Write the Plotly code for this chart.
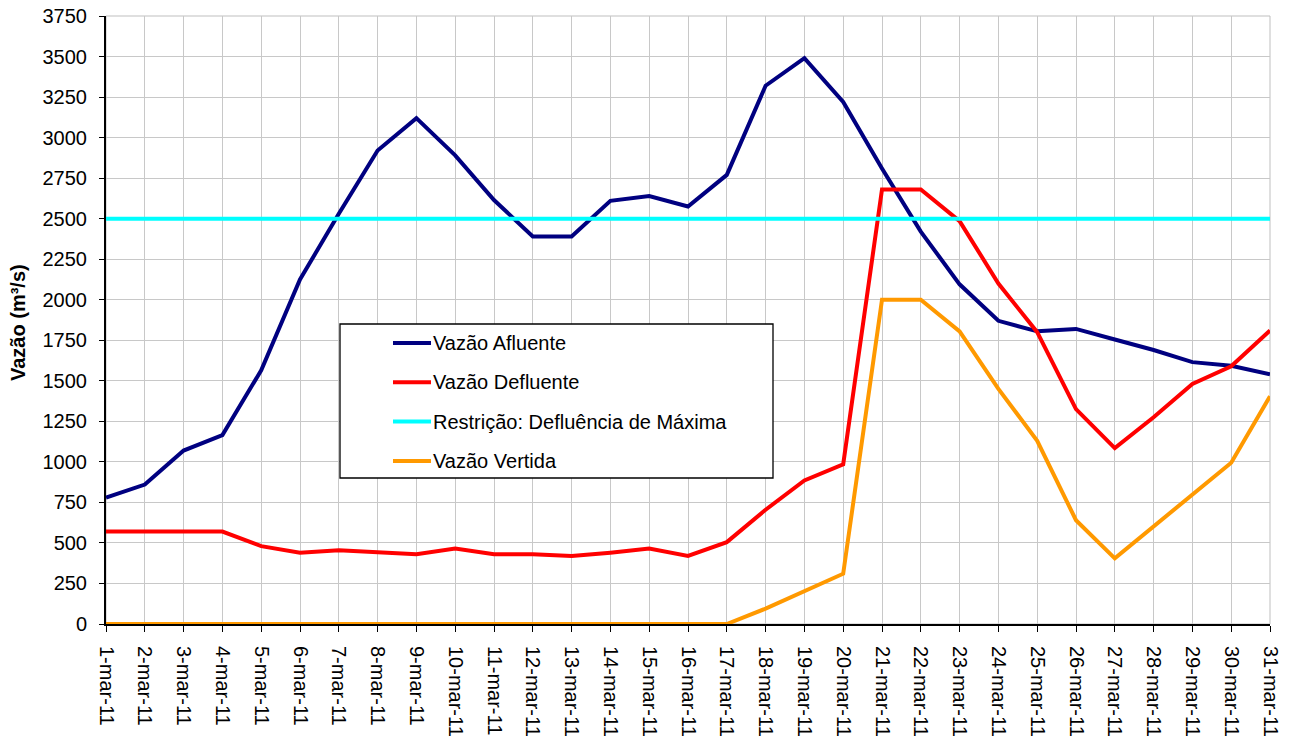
import plotly.graph_objects as go

days = list(range(1, 32))
tick_labels = [f"{d}-mar-11" for d in days]

afluente = [780, 860, 1070, 1165, 1565, 2125, 2530, 2920, 3120, 2890,
            2615, 2390, 2390, 2610, 2640, 2575, 2770, 3320, 3490, 3220,
            2810, 2420, 2095, 1870, 1805, 1820, 1755, 1690, 1615, 1593, 1540]
defluente = [570, 570, 570, 570, 480, 440, 455, 440, 430, 465,
             430, 430, 420, 440, 465, 420, 505, 705, 885, 985,
             2680, 2680, 2485, 2100, 1800, 1325, 1085, 1275, 1480, 1590, 1810]
restricao = [2500] * 31
vertida = [0, 0, 0, 0, 0, 0, 0, 0, 0, 0,
           0, 0, 0, 0, 0, 0, 0, 95, 205, 310,
           2000, 2000, 1805, 1450, 1130, 640, 405, 600, 800, 995, 1405]

series_names = ["Vazão Afluente", "Vazão Defluente",
                "Restrição: Defluência de Máxima", "Vazão Vertida"]
series_values = [afluente, defluente, restricao, vertida]
series_colors = ["#000080", "#FF0000", "#00FFFF", "#FF9900"]

W, H = 1294, 740
L, R, T, B = 106, 24, 16, 116
PW, PH = W - L - R, H - T - B

def px(x):
    return (x - L) / PW

def py(y):
    return (H - B - y) / PH

fig = go.Figure()
for name, vals, col in zip(series_names, series_values, series_colors):
    fig.add_trace(go.Scatter(x=days, y=vals, mode="lines", name=name,
                             line=dict(color=col, width=4),
                             showlegend=False, cliponaxis=False))

font = "Liberation Sans, Arial, sans-serif"

shapes = [
    dict(type="rect", xref="paper", yref="paper", x0=0, x1=1, y0=0, y1=1,
         line=dict(color="#BFBFBF", width=1), layer="below"),
    dict(type="rect", xref="paper", yref="paper",
         x0=px(340), x1=px(773), y0=py(478), y1=py(324),
         fillcolor="white", line=dict(color="black", width=1.3), layer="above"),
]
annotations = []
for i, (name, col) in enumerate(zip(series_names, series_colors)):
    yy = 343 + i * 39.3
    shapes.append(dict(type="line", xref="paper", yref="paper",
                       x0=px(393), x1=px(431), y0=py(yy), y1=py(yy),
                       line=dict(color=col, width=4), layer="above"))
    annotations.append(dict(xref="paper", yref="paper", x=px(431), y=py(yy),
                            text=name, showarrow=False, xanchor="left",
                            yanchor="middle",
                            font=dict(family=font, size=20, color="black")))

annotations.append(dict(xref="paper", yref="paper", x=px(18), y=py(323),
                        text="<b>Vazão (m³/s)</b>", showarrow=False,
                        textangle=-90, xanchor="center", yanchor="middle",
                        font=dict(family=font, size=20, color="black")))

fig.update_layout(
    width=W, height=H,
    margin=dict(l=L, r=R, t=T, b=B, autoexpand=False),
    paper_bgcolor="white", plot_bgcolor="white",
    font=dict(family=font, color="black"),
    shapes=shapes, annotations=annotations,
    xaxis=dict(range=[1, 31], tickmode="array", tickvals=days,
               ticktext=tick_labels, tickangle=90, automargin=False,
               tickfont=dict(size=20, family=font, color="black"),
               ticklabelstandoff=10, ticklabeloverflow="allow",
               showgrid=True, gridcolor="#C8C8C8", gridwidth=1,
               showline=True, linecolor="black", linewidth=2,
               ticks="outside", ticklen=6, tickcolor="black",
               zeroline=False),
    yaxis=dict(range=[0, 3750], tickmode="linear", tick0=0, dtick=250,
               automargin=False,
               tickfont=dict(size=20, family=font, color="black"),
               ticklabelstandoff=8, ticklabeloverflow="allow",
               showgrid=True, gridcolor="#C8C8C8", gridwidth=1,
               showline=True, linecolor="black", linewidth=2,
               ticks="outside", ticklen=5, tickcolor="black",
               zeroline=False),
)

fig.write_html("out.html",
               config={"displayModeBar": False, "staticPlot": True},
               post_script="document.body.style.margin='0px';"
                           "document.body.style.overflow='hidden';")
